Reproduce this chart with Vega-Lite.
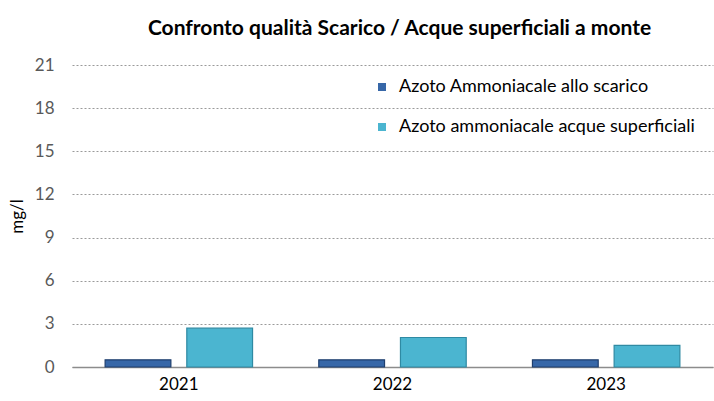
{
  "$schema": "https://vega.github.io/schema/vega-lite/v6.json",
  "width": 641,
  "height": 302,
  "padding": {"left": 72, "top": 65, "right": 1, "bottom": 34},
  "autosize": {"type": "none"},
  "background": "white",
  "config": {
    "view": {"stroke": null},
    "font": "Lato"
  },
  "title": {
    "text": "Confronto qualità Scarico / Acque superficiali a  monte",
    "font": "Lato",
    "fontSize": 21,
    "fontWeight": "bold",
    "color": "#000000",
    "anchor": "middle",
    "offset": 17,
    "dx": 7
  },
  "data": {
    "values": [
      {"anno": "2021", "serie": "Azoto Ammoniacale allo scarico", "valore": 0.5},
      {"anno": "2021", "serie": "Azoto ammoniacale acque superficiali", "valore": 2.7},
      {"anno": "2022", "serie": "Azoto Ammoniacale allo scarico", "valore": 0.5},
      {"anno": "2022", "serie": "Azoto ammoniacale acque superficiali", "valore": 2.05},
      {"anno": "2023", "serie": "Azoto Ammoniacale allo scarico", "valore": 0.5},
      {"anno": "2023", "serie": "Azoto ammoniacale acque superficiali", "valore": 1.5}
    ]
  },
  "mark": {"type": "bar", "strokeWidth": 1.2},
  "encoding": {
    "x": {
      "field": "anno",
      "type": "nominal",
      "scale": {"paddingInner": 0.31, "paddingOuter": 0.155},
      "axis": {
        "title": null,
        "labelAngle": 0,
        "labelFontSize": 17,
        "labelColor": "#000000",
        "labelPadding": 9,
        "ticks": false,
        "domain": true,
        "domainColor": "#8c8c8c",
        "domainWidth": 1.5
      }
    },
    "xOffset": {
      "field": "serie",
      "type": "nominal",
      "sort": ["Azoto Ammoniacale allo scarico", "Azoto ammoniacale acque superficiali"],
      "scale": {"paddingInner": 0.195, "paddingOuter": 0}
    },
    "y": {
      "field": "valore",
      "type": "quantitative",
      "scale": {"domain": [0, 21]},
      "axis": {
        "title": "mg/l",
        "titleFontSize": 17,
        "titleFontWeight": "normal",
        "titleColor": "#000000",
        "titlePadding": 8,
        "values": [0, 3, 6, 9, 12, 15, 18, 21],
        "labelFontSize": 17,
        "labelColor": "#595959",
        "labelPadding": 18,
        "ticks": false,
        "domain": false,
        "grid": true,
        "gridColor": "#9a9a9a",
        "gridDash": [2, 2],
        "gridWidth": 1
      }
    },
    "color": {
      "field": "serie",
      "type": "nominal",
      "sort": ["Azoto Ammoniacale allo scarico", "Azoto ammoniacale acque superficiali"],
      "scale": {
        "domain": ["Azoto Ammoniacale allo scarico", "Azoto ammoniacale acque superficiali"],
        "range": ["#3767a8", "#4bb5d0"]
      },
      "legend": {
        "title": null,
        "orient": "none",
        "legendX": 301,
        "legendY": 13,
        "symbolType": "square",
        "symbolSize": 64,
        "symbolStrokeWidth": 0,
        "labelFontSize": 18,
        "labelColor": "#000000",
        "labelOffset": 8,
        "labelLimit": 400,
        "rowPadding": 22
      }
    },
    "stroke": {
      "field": "serie",
      "type": "nominal",
      "scale": {
        "domain": ["Azoto Ammoniacale allo scarico", "Azoto ammoniacale acque superficiali"],
        "range": ["#1f3f6e", "#2f8aa3"]
      },
      "legend": null
    }
  }
}
